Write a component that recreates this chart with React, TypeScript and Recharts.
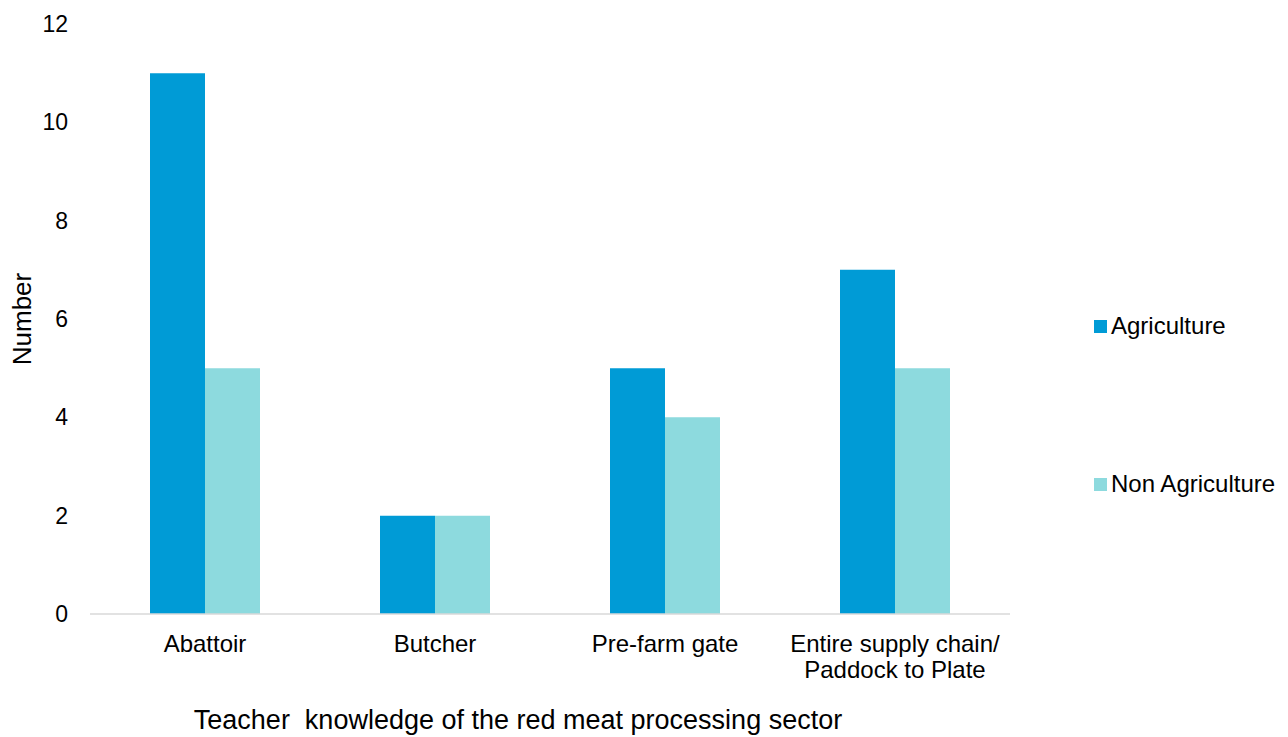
import { BarChart, Bar, XAxis, YAxis } from "recharts";

const categories = ["Abattoir", "Butcher", "Pre-farm gate", "Entire supply chain/\nPaddock to Plate"];
const agriculture = [11, 2, 5, 7];
const nonAgriculture = [5, 2, 4, 5];
const yTicks = [0, 2, 4, 6, 8, 10, 12];

const series = [
  { key: "agri", name: "Agriculture", color: "#009BD6" },
  { key: "nonAgri", name: "Non Agriculture", color: "#8DDADE" },
];

const data = categories.map((name, i) => ({
  name,
  agri: agriculture[i],
  nonAgri: nonAgriculture[i],
}));

const FONT = "'Liberation Sans', Arial, sans-serif";

function CategoryTick({ x, y, payload }: any) {
  const lines = String(payload.value).split("\n");
  return (
    <text x={x} y={y} textAnchor="middle" fontSize={24} fontFamily={FONT} fill="#000">
      {lines.map((line, i) => (
        <tspan key={i} x={x} dy={i === 0 ? 30 : 26}>
          {line}
        </tspan>
      ))}
    </text>
  );
}

export default function App() {
  return (
    <div style={{ position: "absolute", left: 0, top: 0, width: 1288, height: 737, background: "#fff" }}>
      <BarChart
        width={1288}
        height={737}
        data={data}
        margin={{ top: 24, right: 278, left: 0, bottom: 0 }}
        barCategoryGap={60}
        barGap={0}
      >
        <XAxis
          dataKey="name"
          height={123}
          axisLine={{ stroke: "#d9d9d9", strokeWidth: 1.5 }}
          tickLine={false}
          interval={0}
          tick={<CategoryTick />}
          label={{
            content: ({ viewBox }: any) => (
              <text
                x={viewBox.x + viewBox.width / 2 - 32}
                y={729}
                textAnchor="middle"
                fontSize={27}
                fontFamily={FONT}
                fill="#000"
                style={{ whiteSpace: "pre" }}
              >
                {"Teacher  knowledge of the red meat processing sector"}
              </text>
            ),
          }}
        />
        <YAxis
          width={90}
          domain={[0, 12]}
          ticks={yTicks}
          axisLine={false}
          tickLine={false}
          tickMargin={16}
          tick={{ fontSize: 23, fontFamily: FONT, fill: "#000" }}
          label={{
            content: ({ viewBox }: any) => {
              const cy = viewBox.y + viewBox.height / 2;
              return (
                <text
                  x={31}
                  y={cy}
                  transform={`rotate(-90, 31, ${cy})`}
                  textAnchor="middle"
                  fontSize={26}
                  fontFamily={FONT}
                  fill="#000"
                >
                  Number
                </text>
              );
            },
          }}
        />
        {series.map((s) => (
          <Bar key={s.key} dataKey={s.key} name={s.name} fill={s.color} isAnimationActive={false} />
        ))}
      </BarChart>
      {series.map((s, i) => (
        <div
          key={s.key}
          style={{
            position: "absolute",
            left: 1094,
            top: i === 0 ? 314 : 472,
            height: 24,
            lineHeight: "24px",
            display: "flex",
            alignItems: "center",
            fontFamily: FONT,
            fontSize: 24,
            color: "#000",
            whiteSpace: "nowrap",
          }}
        >
          <span style={{ display: "inline-block", width: 13, height: 13, background: s.color, marginRight: 4 }} />
          {s.name}
        </div>
      ))}
    </div>
  );
}
